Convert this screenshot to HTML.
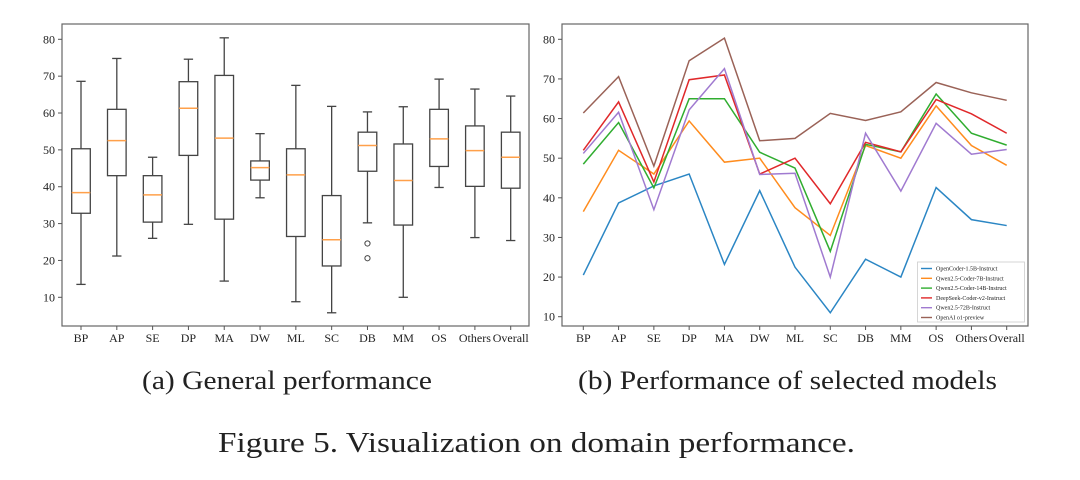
<!DOCTYPE html>
<html><head><meta charset="utf-8"><style>
html,body{margin:0;padding:0;background:#fff;width:1080px;height:480px;overflow:hidden}
svg{display:block}
text{font-family:"Liberation Serif",serif;fill:#222}
</style></head><body>
<svg id="fig" width="1080" height="480" viewBox="0 0 1080 480" xmlns="http://www.w3.org/2000/svg">
<g id="left"></g>
<g id="right"></g>
<text x="142" y="389" font-size="26" textLength="290" lengthAdjust="spacingAndGlyphs">(a) General performance</text>
<text x="578" y="389" font-size="26" textLength="419" lengthAdjust="spacingAndGlyphs">(b) Performance of selected models</text>
<text x="218" y="452" font-size="28" textLength="637" lengthAdjust="spacingAndGlyphs">Figure 5.  Visualization on domain performance.</text>
</svg>
<script>
const categories=["BP","AP","SE","DP","MA","DW","ML","SC","DB","MM","OS","Others","Overall"];
const yTicks=[10,20,30,40,50,60,70,80];
const whisLo=[13.5,21.2,26,29.8,14.4,37,8.8,5.8,30.2,10,39.8,26.2,25.4];
const q1=[32.8,43,30.4,48.5,31.2,41.8,26.5,18.5,44.2,29.6,45.5,40.1,39.6];
const med=[38.4,52.5,37.8,61.3,53.2,45.2,43.2,25.6,51.2,41.7,53,49.8,48];
const q3=[50.3,61,43,68.5,70.2,47,50.3,37.6,54.8,51.6,61,56.5,54.8];
const whisHi=[68.6,74.8,48,74.6,80.4,54.4,67.5,61.8,60.3,61.7,69.2,66.5,64.6];
const fliers=[[],[],[],[],[],[],[],[],[24.6,20.6],[],[],[],[]];
const seriesNames=["OpenCoder-1.5B-Instruct","Qwen2.5-Coder-7B-Instruct","Qwen2.5-Coder-14B-Instruct","DeepSeek-Coder-v2-Instruct","Qwen2.5-72B-Instruct","OpenAI o1-preview"];
const seriesColors=["#2b86c4","#ff8c1e","#30ad30","#e0282a","#a07ad0","#9a6257"];
const openCoder=[20.5,38.7,43,46,23.2,41.8,22.5,11,24.5,20,42.6,34.5,33];
const qwen7b=[36.5,52,46,59.4,49,50,37.5,30.5,53.2,50,63.2,53.2,48.2];
const qwen14b=[48.5,59,42.5,65,65,51.5,47.5,26.5,53.5,51.6,66.2,56.3,53.3];
const deepseek=[52,64.2,44,69.8,71,46,50,38.5,54,51.6,64.8,61.2,56.3];
const qwen72b=[51.2,61.6,37,62.2,72.6,45.9,46.2,20,56.3,41.7,58.8,51,52.2];
const o1=[61.4,70.6,48,74.6,80.3,54.4,55,61.3,59.5,61.7,69.1,66.5,64.6];
const allSeries=[openCoder,qwen7b,qwen14b,deepseek,qwen72b,o1];

const NS="http://www.w3.org/2000/svg";
function mk(parent,tag,attrs,txt){const e=document.createElementNS(NS,tag);for(const k in attrs)e.setAttribute(k,attrs[k]);if(txt!==undefined)e.textContent=txt;parent.appendChild(e);return e;}

function axes(g,P,xf,yf){
  const f=mk(g,'rect',{x:P.l,y:P.t,width:P.r-P.l,height:P.b-P.t,fill:'none',stroke:'#666','stroke-width':1.2});
  
  
  yTicks.forEach(v=>{
    const y=yf(v);
    mk(g,'line',{x1:P.l-4,x2:P.l,y1:y,y2:y,stroke:'#555','stroke-width':1});
    const t=mk(g,'text',{x:P.l-7,y:y+4,'font-size':12,'text-anchor':'end'},String(v));
    
    
  });
  categories.forEach((c,i)=>{
    const x=xf(i);
    mk(g,'line',{x1:x,x2:x,y1:P.b,y2:P.b+4,stroke:'#555','stroke-width':1});
    const t=mk(g,'text',{x:x,y:P.b+16,'font-size':12,'text-anchor':'middle'},c);
    
    
  });
}

const L={l:62,r:529,t:24,b:326};
const lx=i=>81+i*(510.7-81)/12;
const ly=v=>297.3-(v-10)*(297.3-39.3)/70;
const gl=document.getElementById('left');
axes(gl,L,lx,ly);
categories.forEach((c,i)=>{
  const x=lx(i),w=9.3;
  const g=mk(gl,'g',{});
  
  
  const s={stroke:'#444','stroke-width':1.3,fill:'none'};
  mk(g,'line',Object.assign({x1:x,x2:x,y1:ly(whisLo[i]),y2:ly(q1[i])},s));
  mk(g,'line',Object.assign({x1:x,x2:x,y1:ly(q3[i]),y2:ly(whisHi[i])},s));
  mk(g,'line',Object.assign({x1:x-w/2,x2:x+w/2,y1:ly(whisLo[i]),y2:ly(whisLo[i])},s));
  mk(g,'line',Object.assign({x1:x-w/2,x2:x+w/2,y1:ly(whisHi[i]),y2:ly(whisHi[i])},s));
  mk(g,'rect',Object.assign({x:x-w,y:ly(q3[i]),width:2*w,height:ly(q1[i])-ly(q3[i])},s));
  mk(g,'line',{x1:x-w,x2:x+w,y1:ly(med[i]),y2:ly(med[i]),stroke:'#ffa04a','stroke-width':1.5});
  fliers[i].forEach(v=>{
    const c2=mk(g,'circle',{cx:x,cy:ly(v),r:2.6,fill:'none',stroke:'#444','stroke-width':1});
    
    
  });
});

const R={l:562,r:1028,t:24,b:326};
const rx=i=>583.3+i*(1006.7-583.3)/12;
const ry=v=>316.7-(v-10)*(316.7-39.3)/70;
const gr=document.getElementById('right');
axes(gr,R,rx,ry);
allSeries.forEach((arr,si)=>{
  const p=mk(gr,'polyline',{points:arr.map((v,i)=>rx(i)+','+ry(v)).join(' '),fill:'none',stroke:seriesColors[si],'stroke-width':1.5,'stroke-linejoin':'miter'});
  
  
});
const lg=mk(gr,'g',{});


mk(lg,'rect',{x:917.5,y:262,width:107,height:60,fill:'#fff',stroke:'#ccc','stroke-width':0.8});
seriesNames.forEach((n,si)=>{
  const y=268.5+si*9.8;
  const e=mk(lg,'g',{});
  
  
  mk(e,'line',{x1:921,x2:932,y1:y,y2:y,stroke:seriesColors[si],'stroke-width':1.4});
  mk(e,'text',{x:936,y:y+2,'font-size':6},n);
});
</script>
</body></html>
